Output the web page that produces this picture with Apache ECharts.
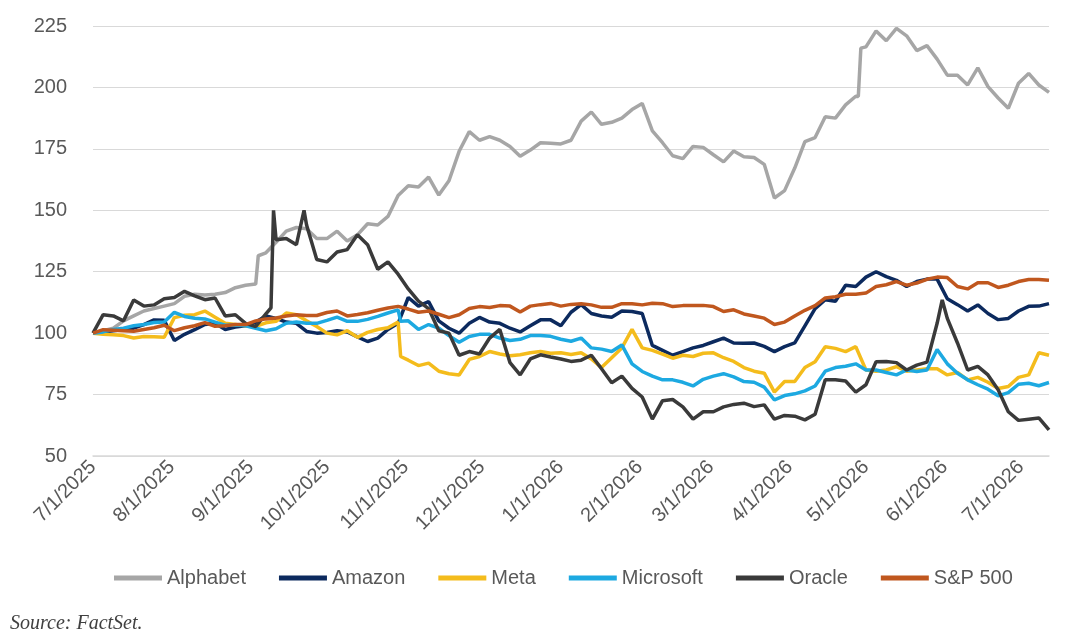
<!DOCTYPE html>
<html lang="en">
<head>
    <meta charset="UTF-8">
    <title>Indexed performance</title>
    <script src="https://cdn.jsdelivr.net/npm/echarts@6/dist/echarts.min.js"></script>
    <style>
        body { margin: 0; background: #ffffff; }
        #chart { width: 1067px; height: 637px; }
    </style>
</head>
<body>
<div id="chart"></div>
<script>
    // sample dates (roughly every 4 days, plus a few extra days around big moves)
    var dates = [
        '2025-07-01','2025-07-05','2025-07-09','2025-07-13','2025-07-17','2025-07-21','2025-07-25','2025-07-29','2025-08-02','2025-08-06','2025-08-10','2025-08-14','2025-08-18','2025-08-22','2025-08-26','2025-08-30',
        '2025-09-03','2025-09-04','2025-09-07','2025-09-09','2025-09-10','2025-09-11','2025-09-15','2025-09-19','2025-09-22','2025-09-23','2025-09-27',
        '2025-10-01','2025-10-05','2025-10-09','2025-10-13','2025-10-17','2025-10-21','2025-10-25','2025-10-29','2025-10-30',
        '2025-11-02','2025-11-06','2025-11-10','2025-11-14','2025-11-18','2025-11-22','2025-11-26','2025-11-30',
        '2025-12-04','2025-12-08','2025-12-12','2025-12-16','2025-12-20','2025-12-24','2025-12-28',
        '2026-01-01','2026-01-05','2026-01-09','2026-01-13','2026-01-17','2026-01-21','2026-01-25','2026-01-29',
        '2026-02-02','2026-02-06','2026-02-10','2026-02-14','2026-02-18','2026-02-22','2026-02-26',
        '2026-03-02','2026-03-06','2026-03-10','2026-03-14','2026-03-18','2026-03-22','2026-03-26','2026-03-30',
        '2026-04-03','2026-04-07','2026-04-11','2026-04-15','2026-04-19','2026-04-23','2026-04-27','2026-04-28','2026-04-29',
        '2026-05-01','2026-05-05','2026-05-09','2026-05-13','2026-05-17','2026-05-21','2026-05-25','2026-05-29','2026-05-31',
        '2026-06-02','2026-06-06','2026-06-10','2026-06-14','2026-06-18','2026-06-22','2026-06-26','2026-06-30',
        '2026-07-04','2026-07-08','2026-07-12'
    ];

    var alphabet = [
        100, 101, 102, 105, 107, 109, 110, 111, 112, 115, 115.8, 115.5, 115.8, 116.5, 118.5, 119.5,
        120, 131.5, 132.7, null, null, 137, 141.5, 143, null, 142.5, 138.5,
        138.5, 141.5, 137.5, 140, 144.5, 144, 147.5, 156, null,
        160, 159.5, 163.5, 156.2, 162, 174, 182, 178.5,
        180, 178.5, 176, 172, 174.5, 177.5, 177.3,
        177, 178.5, 186.3, 190, 185, 185.8, 187.5, 191,
        193.5, 182.3, 177.5, 172.2, 171, 176, 175.6,
        172.6, 169.7, 174.1, 171.8, 171.5, 168.7, 155, 158,
        167.2, 177.9, 179.6, 188.1, 187.5, 192.9, 196.4, 196.3, 216,
        216.5, 223, 219, 224, 221, 215, 217, 211.5, null,
        205, 205, 201, 208, 200.3, 195.7, 191.5, 201.7,
        205.7, 201, 198
    ];
    var amazon = [
        100, 100.5, 101, 101.5, 102, 103.5, 105.4, 105.2, 97, 99.5, 101.4, 103.5, 104, 101.5, 102.5, 103,
        104.5, null, 107, null, null, 106, 104.5, 104, null, 100.7, 100,
        100.3, 101, 100.5, 98.5, 96.6, 98, 101.5, 104, null,
        114.5, 111, 112.8, 105, 102, 100, 104, 106.4,
        104.5, 104, 102, 100.5, 103, 105.4, 105.4,
        103, 108.5, 111.6, 108, 107, 106.5, 109, 108.8,
        108, 95, 93, 91, 92.5, 94, 95,
        96.5, 98, 96, 95.9, 96, 94.6, 92.5, 94.5,
        96, 103, 110, 113.6, 113, 119.5, 119, null, null,
        122.8, 125, 123, 121.5, 119, 121, 122, 122, null,
        114, 111.6, 109, 111.5, 108, 105.5, 106, 109,
        110.9, 111, 112
    ];
    var meta = [
        100, 99.5, 99.3, 99, 98, 98.6, 98.5, 98.3, 106.3, 107.3, 107.5, 109, 106.5, 104, 103.5, 103,
        102.8, null, 104.2, null, null, 104.8, 108.2, 107.5, null, 105, 102.7,
        100, 99.3, 101, 98.3, 100.3, 101.5, 102.2, 104.5, 90.5,
        89, 86.8, 87.8, 84.5, 83.5, 83, 89.3, 90.5,
        92.5, 91.5, 90.8, 91.2, 92, 92.5, 91.8,
        92, 91.3, 92, 89.5, 86, 90, 94, 101.5,
        94, 93, 91.5, 89.8, 91, 90.5, 91.8,
        92, 90, 88.5, 86, 84.5, 83.7, 76, 80.3,
        80.3, 86, 88.4, 94.5, 93.8, 92.5, 94.5, null, null,
        85, 84.5, 85, 86.4, 84.5, 85, 85.5, 85.5, null,
        83, 84, 81, 82, 80, 77.5, 78.3, 82,
        83, 92, 91
    ];
    var microsoft = [
        100, 100.5, 101.5, 102, 103, 103.5, 104.3, 104.5, 108.5, 106.8, 106.1, 105.8, 104.5, 103.2, 103.3, 103,
        102, null, 101, null, null, 101.8, 104, 104.5, null, 104, 104,
        105.2, 106.5, 104.8, 104.8, 105.6, 106.8, 108.2, 109.5, 104.8,
        105, 101.5, 103.5, 102, 99, 96.3, 98.6, 99.5,
        99.5, 98, 97, 97.5, 99, 99, 98.7,
        97.5, 96.7, 98, 94, 93.5, 92.5, 95.2, 87.5,
        84.4, 82.5, 81, 81, 80, 78.5, 81.2,
        82.5, 83.5, 82.2, 80.3, 80, 78, 72.8, 74.6,
        75.3, 76.5, 78.5, 84.5, 86, 86.5, 87.5, null, null,
        85, 85, 84, 83, 85, 84.4, 85, 93.3, null,
        87.5, 83.7, 81, 79, 77.2, 74.5, 75.8, 79.2,
        79.6, 78.6, 79.9
    ];
    var oracle = [
        100, 107.5, 107, 105, 113.5, 111, 111.5, 114, 114.5, 117, 115.2, 113.6, 114.3, 107, 107.5, 104,
        102.7, null, 107.8, 110.3, 150, 138, 138.5, 136, 150, 144, 130,
        129, 133, 134, 140, 136, 126, 129, 124, null,
        118, 113, 110, 101, 100, 91, 92.5, 91.5,
        98, 101.5, 88, 83, 89.5, 91.2, 90.3,
        89.5, 88.5, 89, 91, 85.5, 79.8, 82.5, 77.5,
        74, 65, 72.5, 73, 70, 65, 68,
        68, 70, 71, 71.5, 70.1, 70.8, 65, 66.5,
        66.2, 64.7, 67, 81, 81, 80.5, 76, null, null,
        79, 88.4, 88.5, 88, 85, 87, 88.2, 104, 113.5,
        106, 96, 85, 86.5, 83, 77, 68, 64.5,
        65, 65.5, 60.6
    ];
    var sp500 = [
        100, 101.4, 101.2, 101, 100.8, 101.5, 102.2, 103.2, 101, 102.2, 103, 104.3, 102.8, 103, 103.5, 103.5,
        105, null, 105.8, null, null, 106.2, 107, 107.5, null, 107.2, 107.2,
        108.4, 109, 107, 107.6, 108.3, 109.3, 110.2, 110.9, null,
        109.8, 108.5, 109, 107.7, 106.3, 107.5, 110, 110.8,
        110.4, 111.2, 111, 108.6, 111, 111.6, 112.1,
        111, 111.7, 112, 111.5, 110.5, 110.5, 112, 112,
        111.5, 112.2, 112, 110.8, 111.2, 111.3, 111.3,
        110.8, 108.8, 109.5, 107.8, 107, 106.1, 103.5, 104.5,
        107, 109.3, 111.2, 114.3, 114.8, 115.8, 115.8, null, null,
        116.3, 119, 119.7, 121, 119.5, 120.4, 121.9, 122.8, null,
        122.6, 119, 118, 120.5, 120.5, 118.6, 119.5, 121,
        121.8, 121.8, 121.5
    ];

    var seriesNames = ['Alphabet', 'Amazon', 'Meta', 'Microsoft', 'Oracle', 'S&P 500'];
    var seriesColors = ['#A6A6A6', '#0C2A5E', '#F4BC1C', '#1DA9E1', '#3A3A3A', '#C0571E'];
    var seriesValues = [alphabet, amazon, meta, microsoft, oracle, sp500];

    var tickDates = ['2025-07-01','2025-08-01','2025-09-01','2025-10-01','2025-11-01','2025-12-01','2026-01-01',
                     '2026-02-01','2026-03-01','2026-04-01','2026-05-01','2026-06-01','2026-07-01'];
    var tickLabels = ['7/1/2025','8/1/2025','9/1/2025','10/1/2025','11/1/2025','12/1/2025','1/1/2026',
                      '2/1/2026','3/1/2026','4/1/2026','5/1/2026','6/1/2026','7/1/2026'];

    // x is days since the first date, so the axis is a plain value axis
    var DAY = 86400000;
    function toDay(s){
        var p = s.split('-');
        return Math.round((Date.UTC(+p[0], +p[1] - 1, +p[2]) - Date.UTC(2025, 6, 1)) / DAY);
    }
    var tickValues = tickDates.map(toDay);

    var series = [];
    for (var k = 0; k < seriesNames.length; k++) {
        var vals = seriesValues[k];
        series.push({
            name: seriesNames[k],
            type: 'line',
            showSymbol: false,
            connectNulls: true,
            lineStyle: { width: 3.5, color: seriesColors[k] },
            itemStyle: { color: seriesColors[k] },
            data: dates.map(function(d, i){ return [toDay(d), vals[i]]; })
        });
    }

    var option = {
        animation: false,
        grid: { left: 93, right: 18, top: 26, bottom: 181, containLabel: false },
        xAxis: {
            type: 'value',
            min: 0,
            max: toDay('2026-07-12'),
            splitLine: { show: false },
            axisTick: { show: false },
            axisLine: { lineStyle: { color: '#D9D9D9', width: 1.5 } },
            axisLabel: {
                customValues: tickValues,
                rotate: 45,
                margin: 8,
                fontSize: 20,
                fontFamily: 'Liberation Sans',
                color: '#595959',
                hideOverlap: false,
                formatter: function(v){
                    var idx = tickValues.indexOf(v);
                    return idx >= 0 ? tickLabels[idx] : '';
                }
            }
        },
        yAxis: {
            type: 'value',
            min: 50,
            max: 225,
            interval: 25,
            axisLine: { show: false },
            axisTick: { show: false },
            splitLine: { lineStyle: { color: '#D9D9D9', width: 1 } },
            axisLabel: { fontSize: 20, fontFamily: 'Liberation Sans', color: '#595959', margin: 26 }
        },
        legend: {
            data: seriesNames,
            left: 109,
            top: 563,
            icon: 'rect',
            itemWidth: 48,
            itemHeight: 5,
            itemGap: 33,
            textStyle: { fontSize: 20, fontFamily: 'Liberation Sans', color: '#595959' }
        },
        graphic: [{
            type: 'text',
            left: 10,
            top: 614,
            style: {
                text: 'Source: FactSet.',
                font: 'italic 20px "Liberation Serif"',
                fill: '#404040'
            }
        }],
        series: series
    };

    echarts.init(document.getElementById('chart')).setOption(option);
</script>
</body>
</html>
